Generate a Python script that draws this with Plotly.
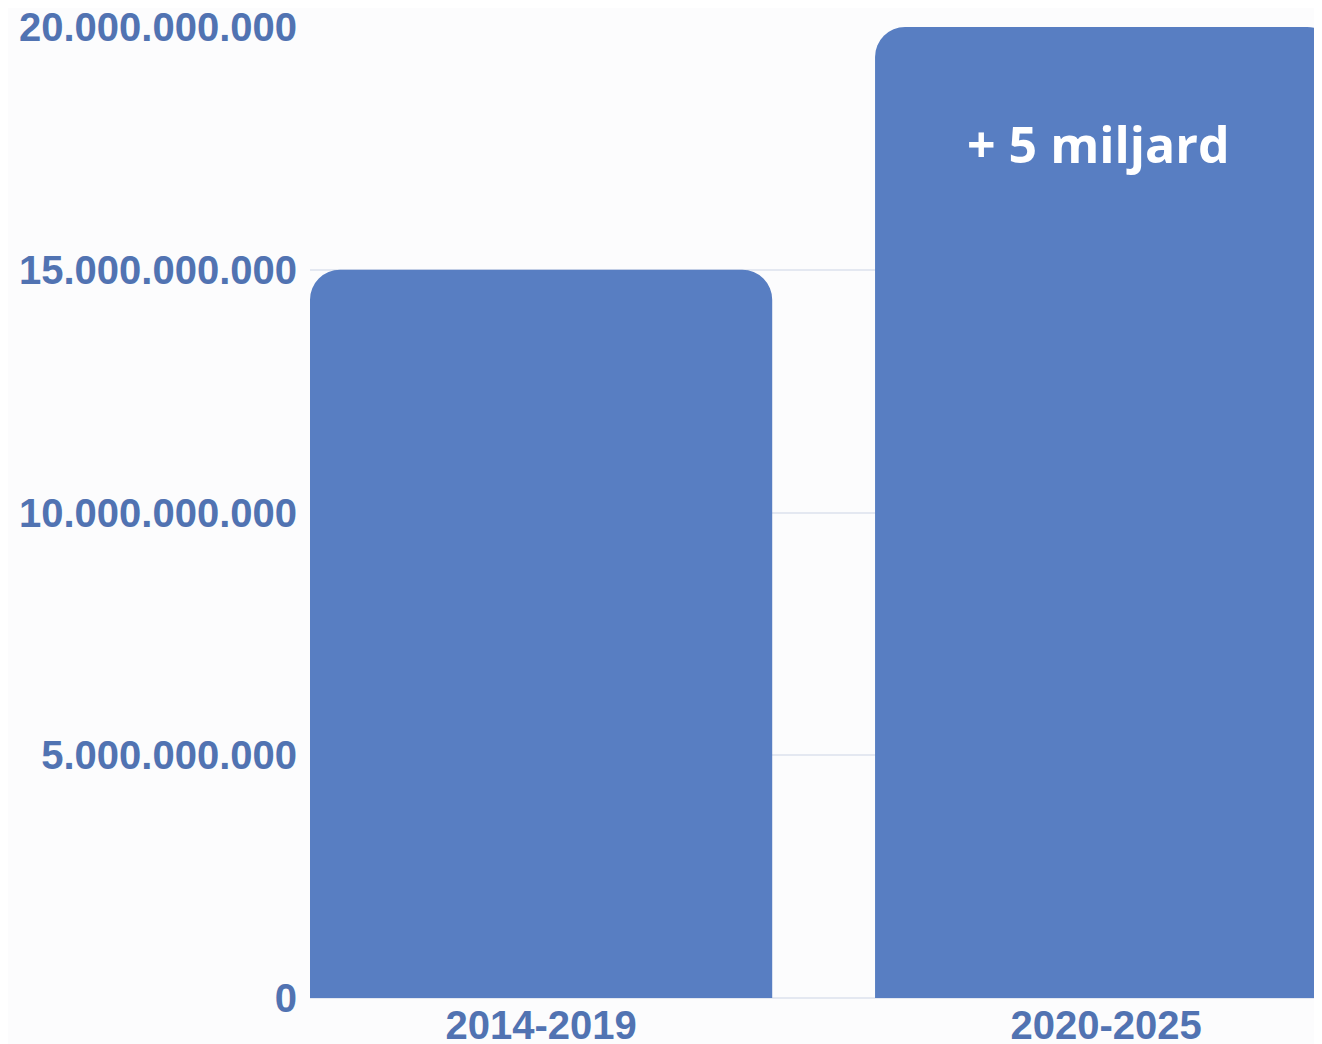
import plotly.graph_objects as go

categories = ["2014-2019", "2020-2025"]
values = [15_000_000_000, 20_000_000_000]
tick_values = [0, 5_000_000_000, 10_000_000_000, 15_000_000_000, 20_000_000_000]
annotation_text = "+ 5 miljard"

BAR_COLOR = "#587ec2"
LABEL_COLOR = "#5173b2"
GRID_COLOR = "#e4e8f1"
BG = "#fcfcfd"

fig = go.Figure(
    go.Bar(
        x=categories,
        y=values,
        marker=dict(color=BAR_COLOR, line=dict(width=0)),
        hoverinfo="skip",
    )
)

fig.add_annotation(
    x=categories[1],
    y=17_600_000_000,
    xref="x",
    yref="y",
    text=annotation_text,
    showarrow=False,
    xshift=-8,
    font=dict(family="Open Sans", size=50, color="white", weight="bold"),
)

fig.update_layout(
    width=1314,
    height=1036,
    margin=dict(l=302, r=0, t=19, b=46),
    paper_bgcolor=BG,
    plot_bgcolor=BG,
    separators=",.",
    bargap=0.182,
    barcornerradius=30,
    showlegend=False,
    xaxis=dict(
        type="category",
        range=[-0.409, 1.382],
        automargin=False,
        showgrid=False,
        showline=False,
        zeroline=False,
        ticks="",
        tickfont=dict(family="Liberation Sans", size=40, color=LABEL_COLOR, weight="bold"),
    ),
    yaxis=dict(
        range=[0, 20_000_000_000],
        tickvals=tick_values,
        tickformat=",.0f",
        automargin=False,
        showgrid=True,
        gridcolor=GRID_COLOR,
        gridwidth=2,
        zeroline=True,
        zerolinecolor=GRID_COLOR,
        zerolinewidth=2,
        showline=False,
        ticks="",
        ticklabelstandoff=12,
        ticklabeloverflow="allow",
        tickfont=dict(family="Liberation Sans", size=40, color=LABEL_COLOR, weight="bold"),
    ),
)

fig.write_html("out.html")
